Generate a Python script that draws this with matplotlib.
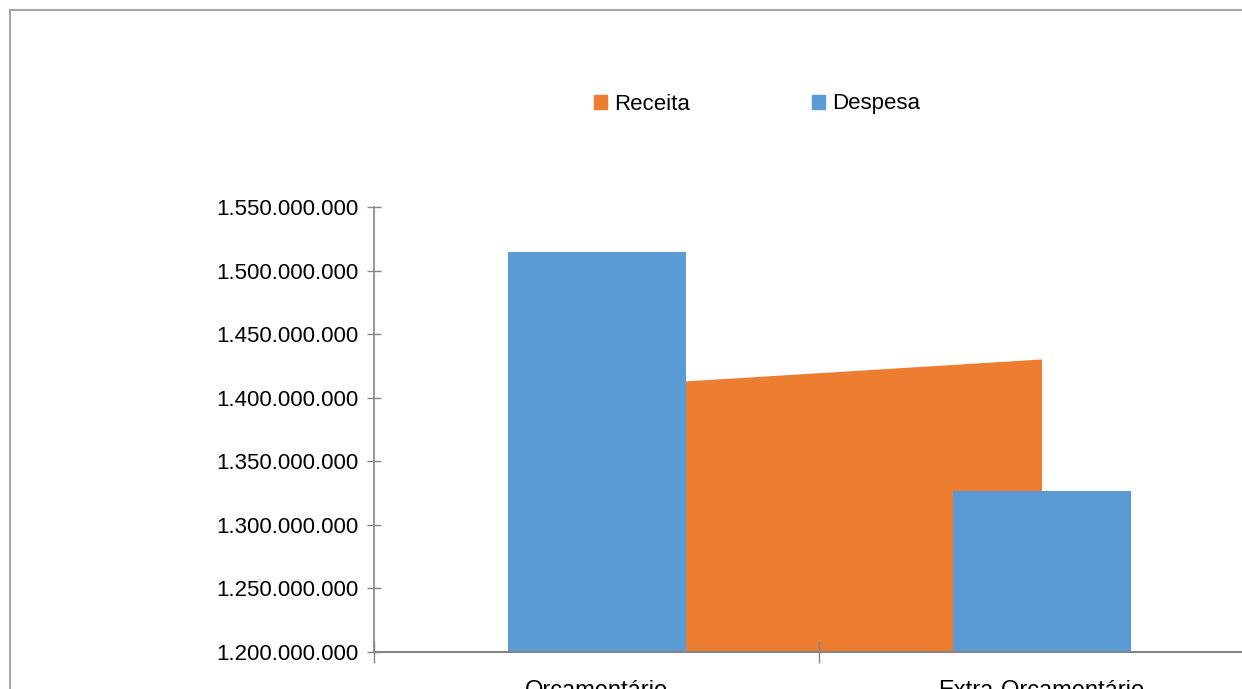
import numpy as np
import matplotlib
matplotlib.use("Agg")
import matplotlib.pyplot as plt
from matplotlib.patches import Patch, Rectangle
from matplotlib.ticker import FuncFormatter, FixedLocator

plt.rcParams['font.family'] = ['Liberation Sans', 'DejaVu Sans']

############### Data ###############
categorias = ["Orçamentário", "Extra-Orçamentário"]
receita = [1408900000, 1430500000]
despesa = [1514700000, 1326700000]
y_ticks = [1200000000, 1250000000, 1300000000, 1350000000,
           1400000000, 1450000000, 1500000000, 1550000000]

AZUL = '#5B9BD5'
LARANJA = '#ED7D31'
CINZA = '#868686'

def fmt_pt(v, pos=None):
    return f"{int(v):,}".replace(",", ".")

fig = plt.figure(figsize=(12.42, 6.89), dpi=100)
fig.patch.set_facecolor('white')

# moldura do grafico (cortada a direita e embaixo)
fig.patches.append(Rectangle((10 / 1242, -0.1), 1.2, (689 - 10) / 689 + 0.1,
                             transform=fig.transFigure, fill=False,
                             edgecolor='#A6A6A6', linewidth=1.5))

ax = fig.add_axes([374 / 1242, 37 / 689, 890 / 1242, 445 / 689])
x = np.arange(len(categorias))

# Receita como area, Despesa como colunas
ax.fill_between(x, y_ticks[0], receita, color=LARANJA, linewidth=0, zorder=1)
ax.bar(x, despesa, width=0.4, color=AZUL, zorder=2)

ax.set_xlim(-0.5, 1.5)
ax.set_ylim(y_ticks[0], y_ticks[-1])

for s in ['top', 'right']:
    ax.spines[s].set_visible(False)
ax.spines['left'].set_color(CINZA)
ax.spines['bottom'].set_color(CINZA)
ax.spines['left'].set_linewidth(1.2)
ax.spines['bottom'].set_linewidth(1.5)

ax.yaxis.set_major_locator(FixedLocator(y_ticks))
ax.yaxis.set_major_formatter(FuncFormatter(fmt_pt))
ax.tick_params(axis='y', direction='inout', length=10, width=1, color=CINZA,
               labelsize=16, pad=6)

ax.xaxis.set_major_locator(FixedLocator([-0.5, 0.5, 1.5]))
ax.xaxis.set_major_formatter(FuncFormatter(lambda v, p: ""))
ax.xaxis.set_minor_locator(FixedLocator(x))
ax.set_xticklabels(categorias, minor=True)
ax.tick_params(axis='x', which='major', direction='inout', length=16, width=1,
               color=CINZA)
ax.tick_params(axis='x', which='minor', length=0, labelsize=17, pad=20)

handles = [Patch(color=LARANJA, label='Receita'), Patch(color=AZUL, label='Despesa')]
fig.legend(handles=handles, loc='center', bbox_to_anchor=(757 / 1242, 1 - 104 / 689),
           ncol=2, frameon=False, fontsize=16, handlelength=0.6, handleheight=0.6,
           handletextpad=0.3, columnspacing=5.5)

fig.savefig('out.png', dpi=100)
